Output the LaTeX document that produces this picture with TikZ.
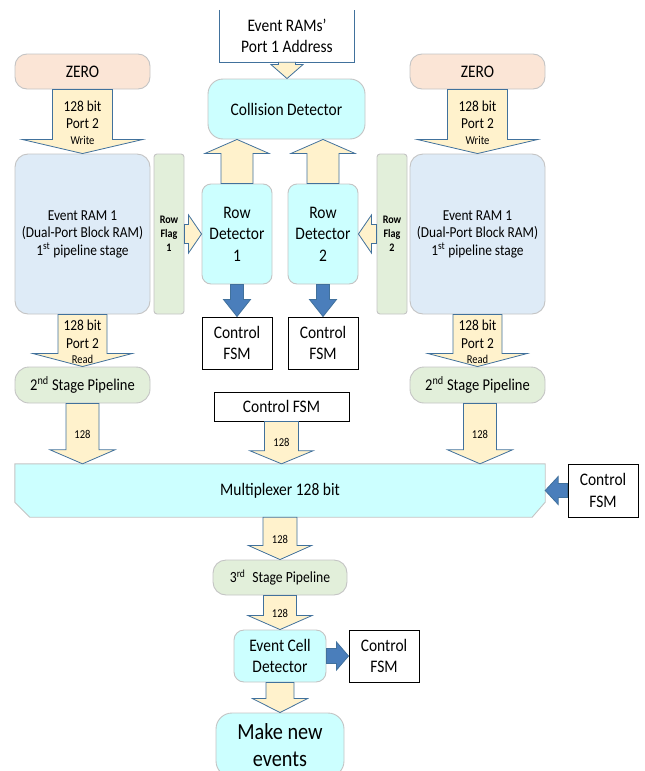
\documentclass[tikz,border=0pt]{standalone}
\usepackage{fontspec}
\setmainfont{Carlito}[FakeStretch=0.88]
\usetikzlibrary{calc,backgrounds}

\definecolor{arrowfill}{HTML}{FFF2CC}
\definecolor{arrowline}{HTML}{41719C}
\definecolor{bluearrow}{HTML}{4A7EBB}
\definecolor{cyanfill}{HTML}{CCFFFF}
\definecolor{ramfill}{HTML}{DEEBF7}
\definecolor{greenfill}{HTML}{E2EFDA}
\definecolor{peachfill}{HTML}{FBE5D6}
\definecolor{softline}{HTML}{C4C4C4}

% font sizes
\newcommand\szBig{\fontsize{17.6pt}{21.5pt}\selectfont}
\newcommand\szMid{\fontsize{15.2pt}{17.5pt}\selectfont}
\newcommand\szNote{\fontsize{12pt}{14pt}\selectfont}
\newcommand\szNum{\fontsize{12pt}{14pt}\selectfont}
\newcommand\szFlag{\fontsize{11.5pt}{14pt}\selectfont\bfseries}
\newcommand\szStage{\fontsize{16.5pt}{19pt}\selectfont}
\newcommand\szThird{\fontsize{15.5pt}{18pt}\selectfont}
\newcommand\szHuge{\fontsize{23pt}{27pt}\selectfont}

% block arrows: style, start, target, half shaft width, half head width, head length
\newcommand\downblock[6]{\draw[#1] let \p1=(#2), \p2=(#3) in
  (\x1-#4,\y1) -- (\x1+#4,\y1) -- (\x1+#4,\y2+#6) -- (\x1+#5,\y2+#6) -- (\x1,\y2)
  -- (\x1-#5,\y2+#6) -- (\x1-#4,\y2+#6) -- cycle;}
\newcommand\upblock[6]{\draw[#1] let \p1=(#2), \p2=(#3) in
  (\x1-#4,\y1) -- (\x1+#4,\y1) -- (\x1+#4,\y2-#6) -- (\x1+#5,\y2-#6) -- (\x1,\y2)
  -- (\x1-#5,\y2-#6) -- (\x1-#4,\y2-#6) -- cycle;}
\newcommand\rightblock[6]{\draw[#1] let \p1=(#2), \p2=(#3) in
  (\x1,\y1-#4) -- (\x2-#6,\y1-#4) -- (\x2-#6,\y1-#5) -- (\x2,\y1)
  -- (\x2-#6,\y1+#5) -- (\x2-#6,\y1+#4) -- (\x1,\y1+#4) -- cycle;}
\newcommand\leftblock[6]{\draw[#1] let \p1=(#2), \p2=(#3) in
  (\x1,\y1-#4) -- (\x2+#6,\y1-#4) -- (\x2+#6,\y1-#5) -- (\x2,\y1)
  -- (\x2+#6,\y1+#5) -- (\x2+#6,\y1+#4) -- (\x1,\y1+#4) -- cycle;}

\tikzset{
  every node/.style={inner sep=0pt, align=center},
  softbox/.style={draw=softline, line width=0.9pt},
  zerobox/.style={softbox, fill=peachfill, rounded corners=12pt,
    minimum width=135pt, minimum height=35pt, font=\szBig},
  rambox/.style={softbox, fill=ramfill, rounded corners=13pt,
    minimum width=135pt, minimum height=160pt, font=\szMid},
  flagbox/.style={softbox, fill=greenfill, rounded corners=3pt,
    minimum width=30pt, minimum height=160pt, font=\szFlag},
  cyanbox/.style={softbox, fill=cyanfill},
  rowbox/.style={cyanbox, rounded corners=9pt, minimum width=70pt,
    minimum height=100pt, font=\szBig},
  stagebox/.style={softbox, fill=greenfill, rounded corners=14pt,
    minimum width=135pt, minimum height=36pt, font=\szStage},
  fsmbox/.style={draw=black, line width=1pt, fill=white, font=\szBig},
  yarrow/.style={draw=arrowline, fill=arrowfill, line width=0.8pt},
  barrow/.style={draw=arrowline, fill=bluearrow, line width=0.8pt},
  lbl/.style={font=\szMid},
  minilbl/.style={font=\szNote},
  numlbl/.style={font=\szNum},
}

\begin{document}
\begin{tikzpicture}[x=1pt,y=-1pt]
\useasboundingbox (0,0) rectangle (645,771);

% ---- top row ----
\node[minimum width=134pt, minimum height=52pt, font=\szBig] (addr) at (287,36)
  {Event RAMs’\\Port 1 Address};
\draw[draw=arrowline, line width=0.9pt]
  (addr.north west) -- (addr.south west) -- (addr.south east) -- (addr.north east);

\node[zerobox] (zeroL) at (82.5,71.5) {ZERO};
\node[zerobox] (zeroR) at (477.5,71.5) {ZERO};

\node[cyanbox, rounded corners=15pt, minimum width=157pt, minimum height=60pt,
  font=\szBig] (coll) at (286.5,109) {Collision Detector};

% ---- event RAMs, row flags, row detectors ----
\node[rambox] (ramL) at (82.5,234)
  {Event RAM 1\\(Dual-Port Block RAM)\\1\textsuperscript{st} pipeline stage};
\node[rambox] (ramR) at (477.5,234)
  {Event RAM 1\\(Dual-Port Block RAM)\\1\textsuperscript{st} pipeline stage};

\node[flagbox] (flagL) at (169,234) {Row\\Flag\\1};
\node[flagbox] (flagR) at (392,234) {Row\\Flag\\2};

\node[rowbox] (rowL) at (237,234) {Row\\Detector\\1};
\node[rowbox] (rowR) at (323,234) {Row\\Detector\\2};

\node[fsmbox, minimum width=70pt, minimum height=52pt] (fsmA) at (237,343) {Control\\FSM};
\node[fsmbox, minimum width=70pt, minimum height=52pt] (fsmB) at (323,343) {Control\\FSM};

% ---- second stage ----
\node[stagebox] (stL) at (82.5,385) {2\textsuperscript{nd} Stage Pipeline};
\node[stagebox] (stR) at (477.5,385) {2\textsuperscript{nd} Stage Pipeline};

\node[fsmbox, minimum width=135pt, minimum height=29pt] (fsmM) at (281.5,406.5) {Control FSM};

% ---- multiplexer ----
\node[minimum width=530pt, minimum height=53pt, font=\szBig] (mux) at (280,490.5)
  {Multiplexer 128 bit};
\begin{scope}[on background layer]
  \draw[softbox, fill=cyanfill] (mux.north west) -- (mux.north east)
    -- ([yshift=15pt]mux.south east) -- ([xshift=-13pt]mux.south east)
    -- ([xshift=15pt]mux.south west) -- ([yshift=15pt]mux.south west) -- cycle;
\end{scope}
\node[fsmbox, minimum width=70pt, minimum height=53pt] (fsmR) at (603,490.5) {Control\\FSM};

% ---- third stage and output ----
\node[stagebox, rounded corners=13pt, minimum width=134pt, minimum height=35pt,
  font=\szThird] (st3) at (280,577.5) {3\textsuperscript{rd}\hspace{0.45em}Stage Pipeline};
\node[cyanbox, rounded corners=10pt, minimum width=92pt, minimum height=52pt,
  font=\szBig] (ecd) at (280,656) {Event Cell\\Detector};
\node[fsmbox, minimum width=70pt, minimum height=52pt] (fsmE) at (384,656) {Control\\FSM};
\node[cyanbox, rounded corners=16pt, minimum width=128pt, minimum height=64pt,
  font=\szHuge] (mne) at (280,745) {Make new\\events};

% ---- data path arrows ----
\downblock{yarrow}{addr.south}{coll.north}{8.5pt}{16pt}{14pt}
\upblock{yarrow}{rowL.north}{coll.south}{16pt}{32pt}{14pt}
\upblock{yarrow}{rowR.north}{coll.south}{16pt}{32pt}{14pt}

\downblock{yarrow}{zeroL.south}{ramL.north}{30pt}{60pt}{14pt}
\downblock{yarrow}{zeroR.south}{ramR.north}{30pt}{60pt}{14pt}

\rightblock{yarrow}{flagL.east}{rowL.west}{9.5pt}{19pt}{13pt}
\leftblock{yarrow}{flagR.west}{rowR.east}{9.5pt}{19pt}{13pt}

\downblock{yarrow}{ramL.south}{stL.north}{24.5pt}{49.5pt}{13pt}
\downblock{yarrow}{ramR.south}{stR.north}{24.5pt}{49.5pt}{13pt}

\downblock{yarrow}{stL.south}{mux.north}{16.5pt}{32.5pt}{14pt}
\downblock{yarrow}{fsmM.south}{mux.north}{17pt}{31.5pt}{13pt}
\downblock{yarrow}{[xshift=2.5pt]stR.south}{mux.north}{16.5pt}{32.5pt}{14pt}

\downblock{yarrow}{mux.south}{st3.north}{17pt}{31.5pt}{14pt}
\downblock{yarrow}{st3.south}{ecd.north}{16.5pt}{32pt}{14pt}
\downblock{yarrow}{ecd.south}{mne.north}{14pt}{27.5pt}{14pt}

% ---- control arrows ----
\downblock{barrow}{rowL.south}{fsmA.north}{6.5pt}{13.5pt}{17pt}
\downblock{barrow}{rowR.south}{fsmB.north}{6.5pt}{13.5pt}{17pt}
\leftblock{barrow}{fsmR.west}{mux.east}{7pt}{14pt}{13pt}
\rightblock{barrow}{ecd.east}{fsmE.west}{7.5pt}{14pt}{12pt}

% ---- arrow labels ----
\node[lbl] (wrL) at (82.5,115) {128 bit\\Port 2};
\node[minilbl] (wrLn) at (82.5,140.5) {Write};
\node[lbl] (wrR) at (477.5,115) {128 bit\\Port 2};
\node[minilbl] (wrRn) at (477.5,140.5) {Write};

\node[lbl] (rdL) at (82.5,334.5) {128 bit\\Port 2};
\node[minilbl] (rdLn) at (82.5,359.5) {Read};
\node[lbl] (rdR) at (477.5,334.5) {128 bit\\Port 2};
\node[minilbl] (rdRn) at (477.5,359.5) {Read};

\node[numlbl] (nA) at (82.5,434) {128};
\node[numlbl] (nB) at (281.5,442) {128};
\node[numlbl] (nC) at (480,434) {128};
\node[numlbl] (nD) at (280,539) {128};
\node[numlbl] (nE) at (280,613) {128};
\end{tikzpicture}
\end{document}
